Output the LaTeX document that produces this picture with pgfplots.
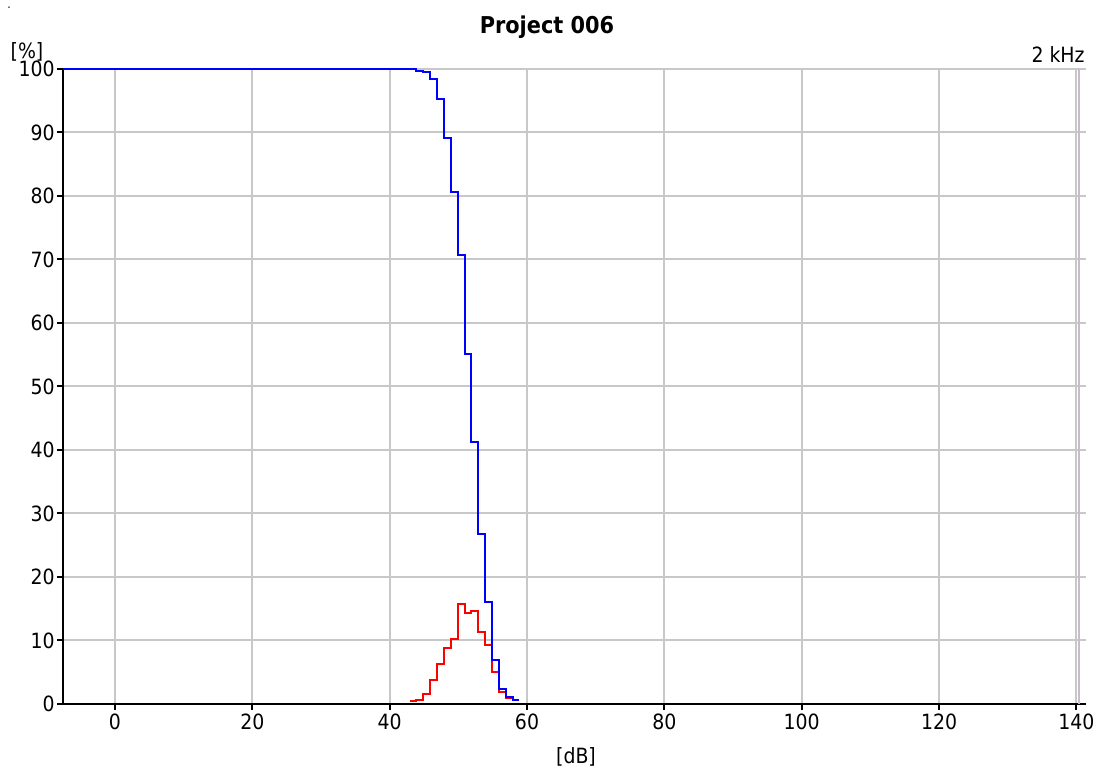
\documentclass[border=0pt]{standalone}
\usepackage{fontspec}
\setmainfont{DejaVu Sans Condensed}
\usepackage{pgfplots}
\pgfplotsset{compat=1.18}
\definecolor{gridgray}{RGB}{200,200,200}
\definecolor{markpurple}{RGB}{205,185,205}
\begin{document}
\fontsize{10.5pt}{12pt}\selectfont
\begin{tikzpicture}
\useasboundingbox (-31.5pt,-32.5pt) rectangle (517.5pt,352pt);
\begin{axis}[
  at={(0pt,0pt)}, anchor=south west,
  scale only axis, width=511.5pt, height=317.5pt,
  xmin=-7.57, xmax=141.4, ymin=0, ymax=100,
  axis x line=bottom, axis y line=left,
  axis line style={-, black, line width=1pt},
  xtick={0,20,...,140}, ytick={0,10,...,100},
  grid=major, major grid style={gridgray, line width=1pt},
  tick align=outside, major tick length=3pt,
  tick style={black, line width=1pt},
  /pgf/number format/assume math mode=true,
  ticklabel style={font=\fontsize{10.5pt}{12pt}\selectfont},
  yticklabel style={inner xsep=1pt},
  xticklabel style={inner ysep=2pt},
  clip=false,
]
\addplot[markpurple, line width=0.8pt] coordinates {(140.35,0) (140.35,100)};
\addplot[red, line width=1pt, const plot mark left] coordinates {
(42.9,0.5) (43.9,0.7) (44.9,1.5) (45.9,3.7) (46.9,6.3) (47.9,8.8) (48.9,10.3)
(49.9,15.75) (50.9,14.3) (51.9,14.6) (52.9,11.3) (53.9,9.3) (54.9,5.1)
(55.9,1.9) (56.9,0.9) (57.9,0.9)};
\addplot[blue, line width=1pt, const plot mark left] coordinates {
(-7.57,100) (43.9,99.7) (44.9,99.6) (45.9,98.5) (46.9,95.2) (47.9,89.2) (48.9,80.7)
(49.9,70.65) (50.9,55.1) (51.9,41.3) (52.9,26.8) (53.9,16.0) (54.9,7.0)
(55.9,2.3) (56.9,1.15) (57.9,0.6) (58.9,0.6)};
\end{axis}
\node[font=\fontsize{11.6pt}{13pt}\bfseries\selectfont] at (242pt,338.5pt) {Project 006};
\node[font=\fontsize{10.5pt}{12pt}\selectfont] at (-18pt,326pt) {[\%]};
\node[font=\fontsize{10.5pt}{12pt}\selectfont, anchor=east, inner sep=0pt] at (511pt,324.5pt) {2 kHz};
\node[font=\fontsize{10.5pt}{12pt}\selectfont] at (256.5pt,-26.5pt) {[dB]};
\node[font=\fontsize{6pt}{7pt}\selectfont] at (-27pt,348pt) {.};
\end{tikzpicture}
\end{document}
